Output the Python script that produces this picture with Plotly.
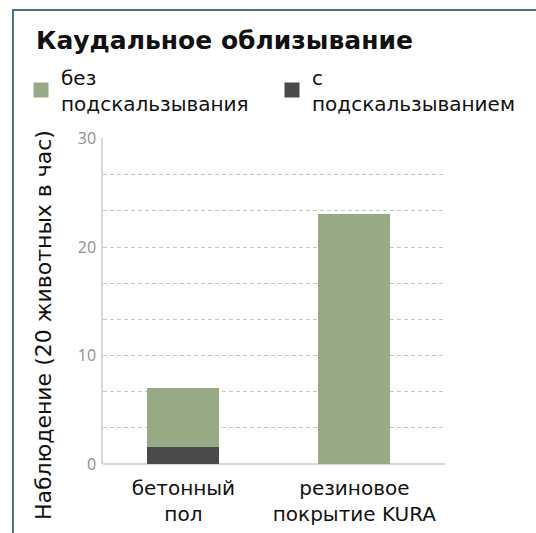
import plotly.graph_objects as go

categories = ["бетонный<br>пол", "резиновое<br>покрытие KURA"]
series_names = ["без<br>подскальзывания", "с<br>подскальзыванием"]
without_slip = [5.4, 23.0]
with_slip = [1.6, 0.0]
y_tick_vals = [0, 10, 20, 30]
y_tick_text = ["0", "10", "20", "30"]

GREEN = "#97aa85"
DARK = "#4a4a4c"
FRAME = "#4f7383"
FONT = "DejaVu Sans"
W, H = 536, 533

fig = go.Figure()
fig.add_trace(go.Bar(x=categories, y=with_slip, name=series_names[1], showlegend=False,
                     marker=dict(color=DARK, line=dict(width=0)), width=0.42))
fig.add_trace(go.Bar(x=categories, y=without_slip, name=series_names[0], showlegend=False,
                     marker=dict(color=GREEN, line=dict(width=0)), width=0.42))
# legend entries (larger square swatches, as in the original)
for name, color in [(series_names[0], GREEN), (series_names[1], DARK)]:
    fig.add_trace(go.Scatter(x=[None], y=[None], mode="markers", name=name,
                             marker=dict(symbol="square", size=15, color=color, line=dict(width=0))))

fig.update_layout(
    width=W, height=H,
    autosize=False,
    margin=dict(l=0, r=0, t=0, b=0, autoexpand=False),
    paper_bgcolor="white", plot_bgcolor="white",
    barmode="stack",
    showlegend=True,
    legend=dict(orientation="h", x=21/W, y=1-90/H, xanchor="left", yanchor="middle",
                traceorder="normal", font=dict(family=FONT, size=20, color="#111"),
                itemwidth=30, entrywidth=206, entrywidthmode="pixels",
                tracegroupgap=0, bgcolor="rgba(0,0,0,0)"),
    xaxis=dict(domain=[103/W, 445/W], range=[-0.47, 1.53], automargin=False,
               showline=False, ticks="", showgrid=False, ticklabelstandoff=10,
               tickfont=dict(family=FONT, size=20, color="#111")),
    yaxis=dict(domain=[1-464/H, 1-138/H], range=[0, 30.05], automargin=False,
               tickvals=y_tick_vals, ticktext=y_tick_text,
               tickfont=dict(family="Open Sans", size=16, color="#8f8f8f"),
               showline=True, linecolor="#d8d8d8", linewidth=1.5,
               ticks="", ticklabelstandoff=2,
               showgrid=True, gridcolor="#c4c4c4", griddash="4px,3px", gridwidth=1,
               zeroline=True, zerolinecolor="#d8d8d8", zerolinewidth=1.5,
               minor=dict(dtick=10/3, showgrid=True, gridcolor="#c4c4c4", griddash="4px,3px", ticks="")),
    annotations=[
        dict(text="<b>Каудальное облизывание</b>", x=34/W, y=1-41/H, xref="paper", yref="paper",
             xanchor="left", yanchor="middle", showarrow=False,
             font=dict(family=FONT, size=25, color="#111")),
        dict(text="Наблюдение (20 животных в час)", x=43/W, y=1-325/H, xref="paper", yref="paper",
             xanchor="center", yanchor="middle", showarrow=False, textangle=-90,
             font=dict(family=FONT, size=22, color="#111")),
    ],
    shapes=[
        dict(type="line", xref="paper", yref="paper", x0=12/W, x1=1, y0=1-10/H, y1=1-10/H,
             line=dict(color=FRAME, width=2)),
        dict(type="line", xref="paper", yref="paper", x0=13/W, x1=13/W, y0=0, y1=1-10/H,
             line=dict(color=FRAME, width=2)),
    ],
)

fig.write_html("out.html", config={"displayModeBar": False},
               post_script="document.body.style.margin='0';document.body.style.overflow='hidden';")
